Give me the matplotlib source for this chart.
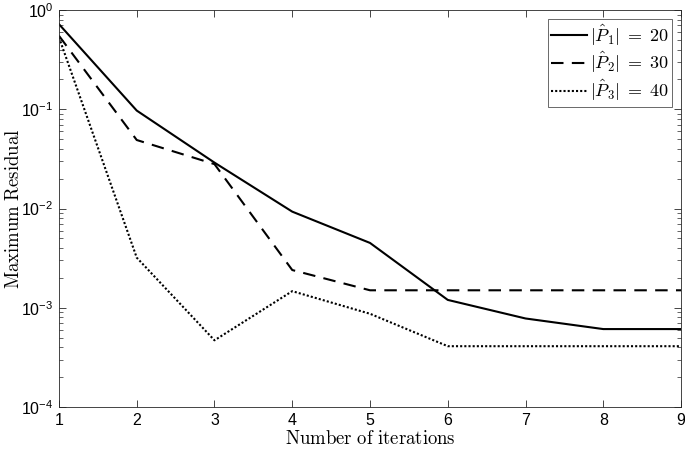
import matplotlib
matplotlib.use("Agg")
import matplotlib.pyplot as plt
import matplotlib.ticker as mticker
import numpy as np

plt.rcParams['mathtext.fontset'] = 'cm'

iterations = [1, 2, 3, 4, 5, 6, 7, 8, 9]
res_p1 = [0.72, 0.097, 0.029, 0.0093, 0.0045, 0.0012, 0.00078, 0.00061, 0.00061]
res_p2 = [0.55, 0.049, 0.028, 0.0024, 0.0015, 0.0015, 0.0015, 0.0015, 0.0015]
res_p3 = [0.53, 0.0032, 0.00047, 0.00147, 0.00087, 0.00041, 0.00041, 0.00041, 0.00041]
labels = [r'$|\hat{P}_1|\;=\;20$', r'$|\hat{P}_2|\;=\;30$', r'$|\hat{P}_3|\;=\;40$']
xticks = [1, 2, 3, 4, 5, 6, 7, 8, 9]
yticks = [1e-4, 1e-3, 1e-2, 1e-1, 1e0]
ytick_labels = [r'$\mathregular{10^{-4}}$', r'$\mathregular{10^{-3}}$', r'$\mathregular{10^{-2}}$',
                r'$\mathregular{10^{-1}}$', r'$\mathregular{10^{0}}$']

fig = plt.figure(figsize=(6.85, 4.49), dpi=100)
ax = fig.add_axes([0.0861, 0.0935, 0.9081, 0.8842])

ax.plot(iterations, res_p1, '-', color='black', lw=1.5, label=labels[0])
ax.plot(iterations, res_p2, '--', color='black', lw=1.5, label=labels[1], dashes=(6, 4))
ax.plot(iterations, res_p3, ':', color='black', lw=1.5, label=labels[2], dashes=(1, 1))

ax.set_yscale('log')
ax.set_xlim(1, 9)
ax.set_ylim(1e-4, 1)
ax.set_xticks(xticks)
ax.set_xticklabels([str(v) for v in xticks], fontfamily='Liberation Sans', fontsize=11.5)
ax.set_yticks(yticks)
ax.set_yticklabels(ytick_labels, fontfamily='Liberation Sans', fontsize=11.5)
ax.yaxis.set_minor_locator(mticker.LogLocator(base=10, subs=np.arange(2, 10)))
ax.yaxis.set_minor_formatter(mticker.NullFormatter())

ax.tick_params(which='both', direction='in', top=True, right=True, color='#262626')
ax.tick_params(which='major', length=5, width=0.6, pad=4)
ax.tick_params(which='minor', length=3, width=0.5)
for s in ax.spines.values():
    s.set_linewidth(0.6)
    s.set_color('#262626')

ax.set_xlabel(r'$\mathrm{Number\ of\ iterations}$', fontsize=13.5, labelpad=1)
ax.set_ylabel(r'$\mathrm{Maximum\ Residual}$', fontsize=13.5)
ax.yaxis.set_label_coords(-0.058, 0.5)

leg = ax.legend(loc='upper right', fontsize=13, frameon=True, fancybox=False,
                handlelength=2.0, handletextpad=0.15, borderpad=0.2, labelspacing=0.15,
                borderaxespad=0.5)
leg.get_frame().set_edgecolor('#262626')
leg.get_frame().set_linewidth(0.6)

fig.savefig('out.png', dpi=100)
